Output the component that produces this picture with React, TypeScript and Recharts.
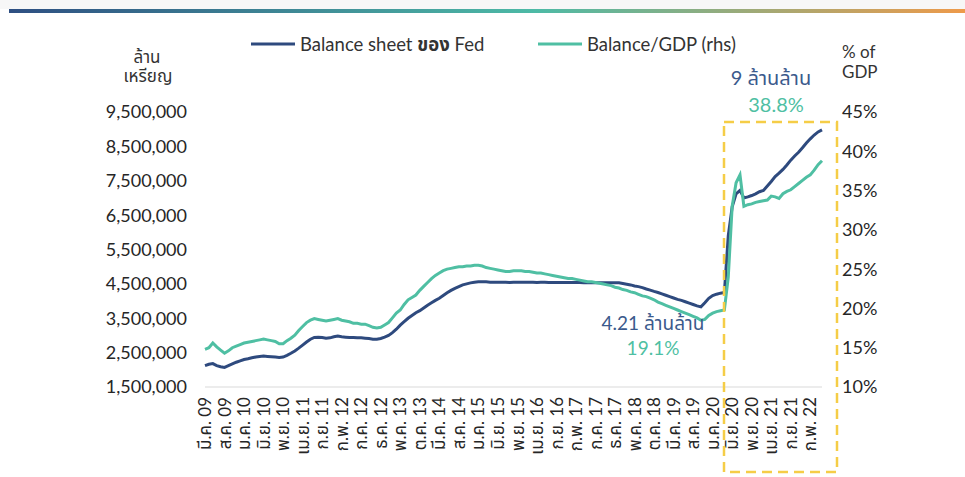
import React from 'react';
import { LineChart, Line, XAxis, YAxis } from 'recharts';

const FONT = "Lato, 'Noto Sans', 'Noto Sans Thai', sans-serif";
const BLUE = '#2e4a7e';
const TEAL = '#4fbfa3';

// month names used for the x categories (Mar 2009 .. May 2022)
const thaiMonths = ['ม.ค.', 'ก.พ.', 'มี.ค.', 'เม.ย.', 'พ.ค.', 'มิ.ย.', 'ก.ค.', 'ส.ค.', 'ก.ย.', 'ต.ค.', 'พ.ย.', 'ธ.ค.'];
const firstYear = 2009;
const firstMonth = 2;

// Fed balance sheet, trillion USD, one value per month
const fedBalance = [
  2.12, 2.16, 2.18, 2.12, 2.09, 2.07, 2.12, 2.17, 2.22, 2.26,
  2.30, 2.32, 2.35, 2.37, 2.39, 2.40, 2.39, 2.38, 2.37, 2.36, 2.37, 2.42,
  2.48, 2.55, 2.63, 2.72, 2.81, 2.89, 2.94, 2.95, 2.94, 2.92, 2.93, 2.96,
  2.98, 2.96, 2.95, 2.94, 2.94, 2.93, 2.93, 2.92, 2.91, 2.89, 2.89, 2.91,
  2.95, 3.00, 3.08, 3.18, 3.30, 3.40, 3.50, 3.58, 3.66, 3.72, 3.80, 3.88,
  3.95, 4.02, 4.08, 4.16, 4.24, 4.31, 4.37, 4.42, 4.47, 4.50, 4.53, 4.55,
  4.56, 4.56, 4.56, 4.55, 4.55, 4.55, 4.55, 4.55, 4.54, 4.55, 4.55, 4.55,
  4.55, 4.55, 4.55, 4.54, 4.55, 4.55, 4.54, 4.54, 4.54, 4.54, 4.54, 4.54,
  4.54, 4.54, 4.54, 4.53, 4.53, 4.53, 4.53, 4.53, 4.53, 4.53, 4.53, 4.53,
  4.53, 4.51, 4.49, 4.47, 4.44, 4.42, 4.39, 4.35, 4.32, 4.28, 4.25, 4.21,
  4.17, 4.13, 4.09, 4.05, 4.02, 3.98, 3.94, 3.90, 3.86, 3.83, 3.95, 4.08,
  4.16, 4.20, 4.23, 4.25, 5.90, 6.74, 7.12, 7.22, 7.00, 7.03, 7.07, 7.12,
  7.18, 7.22, 7.35, 7.48, 7.62, 7.72, 7.83, 7.96, 8.10, 8.22, 8.33, 8.46,
  8.60, 8.72, 8.83, 8.92, 8.98,
];

// balance sheet as % of GDP (rhs)
const balanceToGdp = [
  14.8, 15.0, 15.6, 15.1, 14.7, 14.3, 14.6, 15.0, 15.2, 15.4,
  15.6, 15.7, 15.8, 15.9, 16.0, 16.1, 16.0, 15.9, 15.8, 15.5, 15.5, 15.9,
  16.2, 16.6, 17.2, 17.7, 18.2, 18.5, 18.7, 18.6, 18.5, 18.4, 18.5, 18.6,
  18.7, 18.5, 18.4, 18.3, 18.1, 18.1, 18.0, 18.0, 17.8, 17.6, 17.5, 17.6,
  17.9, 18.2, 18.8, 19.4, 19.8, 20.5, 21.1, 21.4, 21.7, 22.3, 22.8, 23.3,
  23.8, 24.2, 24.5, 24.8, 25.0, 25.1, 25.2, 25.3, 25.3, 25.4, 25.4, 25.5,
  25.5, 25.4, 25.2, 25.1, 25.0, 24.9, 24.8, 24.7, 24.7, 24.8, 24.8, 24.8,
  24.7, 24.7, 24.6, 24.5, 24.5, 24.4, 24.3, 24.2, 24.1, 24.0, 23.9, 23.8,
  23.8, 23.7, 23.6, 23.5, 23.4, 23.4, 23.3, 23.2, 23.1, 23.0, 22.9, 22.7,
  22.6, 22.4, 22.3, 22.1, 22.0, 21.8, 21.6, 21.5, 21.3, 21.1, 20.8, 20.6,
  20.4, 20.2, 20.0, 19.8, 19.6, 19.4, 19.2, 19.0, 18.8, 18.5, 18.6, 19.1,
  19.4, 19.6, 19.7, 19.8, 24.0, 33.0, 36.0, 37.0, 33.0, 33.2, 33.3, 33.5,
  33.6, 33.7, 33.8, 34.3, 34.2, 34.0, 34.6, 34.9, 35.1, 35.5, 35.9, 36.3,
  36.7, 37.0, 37.6, 38.3, 38.8,
];

const leftTicks = [1500000, 2500000, 3500000, 4500000, 5500000, 6500000, 7500000, 8500000, 9500000];
const rightTicks = [10, 15, 20, 25, 30, 35, 40, 45];

const monthLabel = (i: number) => {
  const k = firstMonth + i;
  const yr = (firstYear + Math.floor(k / 12)) % 100;
  return `${thaiMonths[k % 12]} ${String(yr).padStart(2, '0')}`;
};

const data = fedBalance.map((v, i) => ({
  month: monthLabel(i),
  balance: v * 1000000,
  gdp: balanceToGdp[i],
}));

const MonthTick = (props: any) => {
  const { x, y, payload } = props;
  return (
    <text
      x={x}
      y={y}
      dy="0.36em"
      transform={`rotate(-90 ${x} ${y})`}
      textAnchor="end"
      fontSize={17}
      fill="#262626"
      fontFamily={FONT}
    >
      {payload.value}
    </text>
  );
};

const tickStyle = { fontSize: 18, fill: '#262626', fontFamily: FONT };

export default function App() {
  return (
    <div style={{ position: 'absolute', left: 0, top: 0, width: 965, height: 477, background: '#fff', fontFamily: FONT }}>
      <div style={{ position: 'absolute', left: 0, top: 0, width: 965, height: 9, background: '#f7f7f7' }} />
      <div
        style={{
          position: 'absolute', left: 9, top: 9, width: 956, height: 4,
          background: 'linear-gradient(90deg, #2e4f82 0%, #4dbaa6 55%, #ee9a4a 100%)',
        }}
      />
      <LineChart width={965} height={477} data={data} margin={{ top: 112, right: 0, bottom: 0, left: 0 }}>
        <XAxis
          dataKey="month"
          interval={4}
          height={90}
          tickLine={false}
          tickSize={0}
          tickMargin={10}
          axisLine={{ stroke: '#d9d9d9' }}
          tick={<MonthTick />}
        />
        <YAxis
          yAxisId="left"
          width={205}
          domain={[1500000, 9500000]}
          ticks={leftTicks}
          axisLine={false}
          tickLine={false}
          tickSize={0}
          tickMargin={18}
          tick={tickStyle}
          tickFormatter={(v: number) => v.toLocaleString('en-US')}
        />
        <YAxis
          yAxisId="right"
          orientation="right"
          width={143}
          domain={[10, 45]}
          ticks={rightTicks}
          axisLine={false}
          tickLine={false}
          tickSize={0}
          tickMargin={20}
          tick={{ ...tickStyle, textAnchor: 'start' }}
          tickFormatter={(v: number) => `${v}%`}
        />
        <Line
          yAxisId="left"
          type="linear"
          dataKey="balance"
          stroke={BLUE}
          strokeWidth={3}
          dot={false}
          isAnimationActive={false}
        />
        <Line
          yAxisId="right"
          type="linear"
          dataKey="gdp"
          stroke={TEAL}
          strokeWidth={3}
          dot={false}
          isAnimationActive={false}
        />
      </LineChart>
      <svg width={965} height={477} style={{ position: 'absolute', left: 0, top: 0, pointerEvents: 'none' }}>
        {/* legend */}
        <line x1={251} y1={44} x2={295} y2={44} stroke={BLUE} strokeWidth={3} />
        <text x={300} y={51} fontSize={18.5} fill="#333" fontFamily={FONT}>
          Balance sheet <tspan fontWeight="bold">ของ</tspan> Fed
        </text>
        <line x1={538} y1={44} x2={582} y2={44} stroke={TEAL} strokeWidth={3} />
        <text x={587} y={51} fontSize={18.5} fill="#333" fontFamily={FONT}>Balance/GDP (rhs)</text>

        {/* axis titles */}
        <text x={147} y={63} fontSize={17} fill="#333" textAnchor="middle" fontFamily={FONT}>ล้าน</text>
        <text x={148} y={82} fontSize={17} fill="#333" textAnchor="middle" fontFamily={FONT}>เหรียญ</text>
        <text x={842} y={58} fontSize={17} fill="#333" fontFamily={FONT}>% of</text>
        <text x={842} y={78} fontSize={17} fill="#333" fontFamily={FONT}>GDP</text>

        {/* annotations */}
        <text x={771} y={85} fontSize={20} fill="#3b5a8c" textAnchor="middle" fontFamily={FONT}>9 ล้านล้าน</text>
        <text x={776} y={112} fontSize={20} fill={TEAL} textAnchor="middle" fontFamily={FONT}>38.8%</text>
        <text x={653} y={330} fontSize={19} fill="#3b5a8c" textAnchor="middle" fontFamily={FONT}>4.21 ล้านล้าน</text>
        <text x={653} y={355} fontSize={19} fill={TEAL} textAnchor="middle" fontFamily={FONT}>19.1%</text>

        {/* highlight box */}
        <rect x={724} y={122} width={113} height={350} fill="none" stroke="#f5cd47" strokeWidth={2.5} strokeDasharray="10 6" />
      </svg>
    </div>
  );
}
